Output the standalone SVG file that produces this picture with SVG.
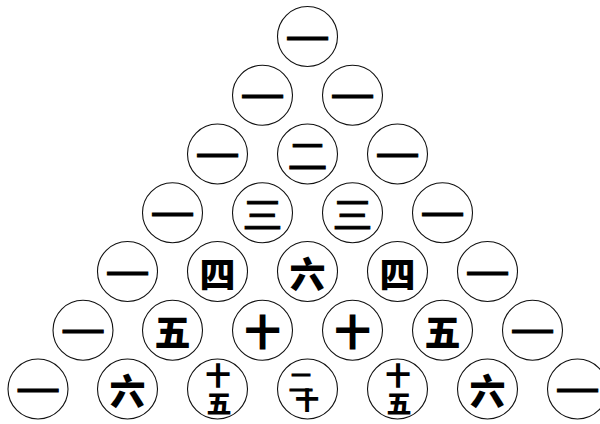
<svg xmlns="http://www.w3.org/2000/svg" width="600" height="424" viewBox="0 0 600 424">
<style>
.c{fill:#fff;stroke:#111;stroke-width:1.1}
.t{font-family:"Noto Sans CJK SC","Noto Sans CJK JP",sans-serif;font-weight:900;font-size:36px;text-anchor:middle;dominant-baseline:central;fill:#000}
.h{font-weight:400;stroke:#000;stroke-width:0.9}
.s{font-size:25px}
.x{font-size:24px}
</style>
<rect width="600" height="424" fill="#fff"/>
<g id="n0-0"><circle class="c" cx="307.5" cy="36.5" r="30"/><text class="t h" x="307.5" y="36.5" textLength="44" lengthAdjust="spacingAndGlyphs">一</text></g>
<g id="n1-0"><circle class="c" cx="262.5" cy="95.25" r="30"/><text class="t h" x="262.5" y="95.25" textLength="44" lengthAdjust="spacingAndGlyphs">一</text></g>
<g id="n1-1"><circle class="c" cx="352.5" cy="95.25" r="30"/><text class="t h" x="352.5" y="95.25" textLength="44" lengthAdjust="spacingAndGlyphs">一</text></g>
<g id="n2-0"><circle class="c" cx="217.5" cy="154" r="30"/><text class="t h" x="217.5" y="154" textLength="44" lengthAdjust="spacingAndGlyphs">一</text></g>
<g id="n2-1"><circle class="c" cx="307.5" cy="154" r="30"/><text class="t h" x="307.5" y="154" textLength="40" lengthAdjust="spacingAndGlyphs">二</text></g>
<g id="n2-2"><circle class="c" cx="397.5" cy="154" r="30"/><text class="t h" x="397.5" y="154" textLength="44" lengthAdjust="spacingAndGlyphs">一</text></g>
<g id="n3-0"><circle class="c" cx="172.5" cy="212.75" r="30"/><text class="t h" x="172.5" y="212.75" textLength="44" lengthAdjust="spacingAndGlyphs">一</text></g>
<g id="n3-1"><circle class="c" cx="262.5" cy="212.75" r="30"/><text class="t h" x="262.5" y="212.75" textLength="40" lengthAdjust="spacingAndGlyphs">三</text></g>
<g id="n3-2"><circle class="c" cx="352.5" cy="212.75" r="30"/><text class="t h" x="352.5" y="212.75" textLength="40" lengthAdjust="spacingAndGlyphs">三</text></g>
<g id="n3-3"><circle class="c" cx="442.5" cy="212.75" r="30"/><text class="t h" x="442.5" y="212.75" textLength="44" lengthAdjust="spacingAndGlyphs">一</text></g>
<g id="n4-0"><circle class="c" cx="127.5" cy="271.5" r="30"/><text class="t h" x="127.5" y="271.5" textLength="44" lengthAdjust="spacingAndGlyphs">一</text></g>
<g id="n4-1"><circle class="c" cx="217.5" cy="271.5" r="30"/><text class="t" x="217.5" y="271.5">四</text></g>
<g id="n4-2"><circle class="c" cx="307.5" cy="271.5" r="30"/><text class="t" x="307.5" y="271.5">六</text></g>
<g id="n4-3"><circle class="c" cx="397.5" cy="271.5" r="30"/><text class="t" x="397.5" y="271.5">四</text></g>
<g id="n4-4"><circle class="c" cx="487.5" cy="271.5" r="30"/><text class="t h" x="487.5" y="271.5" textLength="44" lengthAdjust="spacingAndGlyphs">一</text></g>
<g id="n5-0"><circle class="c" cx="83" cy="330.25" r="30"/><text class="t h" x="83" y="330.25" textLength="44" lengthAdjust="spacingAndGlyphs">一</text></g>
<g id="n5-1"><circle class="c" cx="172.5" cy="330.25" r="30"/><text class="t" x="172.5" y="330.25">五</text></g>
<g id="n5-2"><circle class="c" cx="262.5" cy="330.25" r="30"/><text class="t" x="262.5" y="330.25">十</text></g>
<g id="n5-3"><circle class="c" cx="352.5" cy="330.25" r="30"/><text class="t" x="352.5" y="330.25">十</text></g>
<g id="n5-4"><circle class="c" cx="442.5" cy="330.25" r="30"/><text class="t" x="442.5" y="330.25">五</text></g>
<g id="n5-5"><circle class="c" cx="532.5" cy="330.25" r="30"/><text class="t h" x="532.5" y="330.25" textLength="44" lengthAdjust="spacingAndGlyphs">一</text></g>
<g id="n6-0"><circle class="c" cx="38" cy="389" r="30"/><text class="t h" x="38" y="389" textLength="44" lengthAdjust="spacingAndGlyphs">一</text></g>
<g id="n6-1"><circle class="c" cx="127.5" cy="389" r="30"/><text class="t" x="127.5" y="389">六</text></g>
<g id="n6-2"><circle class="c" cx="217.5" cy="389" r="30"/><text class="t s" x="218" y="374">十</text><text class="t s" x="219" y="401.5">五</text></g>
<g id="n6-3"><circle class="c" cx="307.5" cy="389" r="30"/><text class="t x h" x="301" y="380" textLength="25" lengthAdjust="spacingAndGlyphs">二</text><text class="t x" x="307" y="398.5">十</text></g>
<g id="n6-4"><circle class="c" cx="397.5" cy="389" r="30"/><text class="t s" x="398" y="374">十</text><text class="t s" x="399" y="401.5">五</text></g>
<g id="n6-5"><circle class="c" cx="487.5" cy="389" r="30"/><text class="t" x="487.5" y="389">六</text></g>
<g id="n6-6"><circle class="c" cx="577.5" cy="389" r="30"/><text class="t h" x="577.5" y="389" textLength="44" lengthAdjust="spacingAndGlyphs">一</text></g>
<g id="connectors"></g>
</svg>
